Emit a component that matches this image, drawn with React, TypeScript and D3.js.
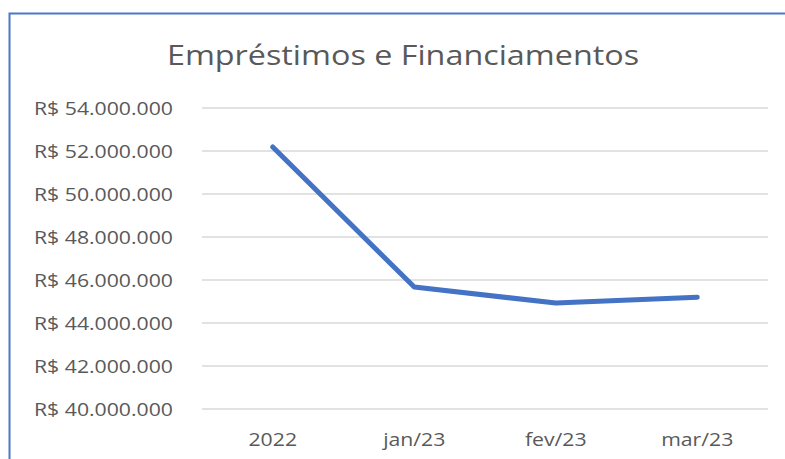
import { useRef, useEffect } from 'react';
import * as d3 from 'd3';

const categories = ['2022', 'jan/23', 'fev/23', 'mar/23'];
const values = [52190000, 45670000, 44930000, 45200000];
const yTicks = [40000000, 42000000, 44000000, 46000000, 48000000, 50000000, 52000000, 54000000];

const W = 785;
const H = 459;
const FONT = '"Open Sans", sans-serif';
// the reference glyphs are wider than Open Sans, so stretch text horizontally
const SX_LABEL = 1.18;
const SX_TITLE = 1.155;

const fmt = (v: number) => 'R$ ' + d3.format(',')(v).replace(/,/g, '.');

export default function App() {
    const svgRef = useRef<SVGSVGElement>(null);

    useEffect(() => {
        document.body.style.margin = '0';
        if (!svgRef.current) return;

        const margin = { top: 108, right: 17, bottom: 50, left: 202 };
        const width = W - margin.left - margin.right;
        const height = H - margin.top - margin.bottom;

        const root = d3.select(svgRef.current);
        root.selectAll('*').remove();

        root.append('rect').attr('width', W).attr('height', H).attr('fill', '#fff');

        // frame (top and left edges visible)
        root.append('path')
            .attr('d', `M9.5,${H} V13.5 H${W}`)
            .attr('fill', 'none')
            .attr('stroke', '#4a78c8')
            .attr('stroke-width', 2);

        root.append('g')
            .attr('transform', `translate(403,65) scale(${SX_TITLE},1)`)
            .append('text')
            .attr('text-anchor', 'middle')
            .attr('fill', '#595959')
            .style('font-family', FONT)
            .style('font-size', '28px')
            .text('Empréstimos e Financiamentos');

        const svg = root.append('g').attr('transform', `translate(${margin.left},${margin.top})`);

        const x = d3.scaleBand().domain(categories).range([0, width]);
        const y = d3.scaleLinear().domain([40000000, 54000000]).range([height, 0]);

        // grid lines
        svg.append('g')
            .selectAll('line')
            .data(yTicks)
            .enter()
            .append('line')
            .attr('x1', 0)
            .attr('x2', width)
            .attr('y1', d => y(d))
            .attr('y2', d => y(d))
            .attr('stroke', '#d9d9d9')
            .attr('stroke-width', 1.3);

        // y labels
        svg.append('g')
            .selectAll('g')
            .data(yTicks)
            .enter()
            .append('g')
            .attr('transform', d => `translate(-29,${y(d) + 7}) scale(${SX_LABEL},1)`)
            .append('text')
            .attr('text-anchor', 'end')
            .attr('fill', '#595959')
            .style('font-family', FONT)
            .style('font-size', '18px')
            .text(d => fmt(d));

        // x labels
        svg.append('g')
            .selectAll('g')
            .data(categories)
            .enter()
            .append('g')
            .attr('transform', d => `translate(${(x(d) || 0) + x.bandwidth() / 2},${height + 37}) scale(${SX_LABEL},1)`)
            .append('text')
            .attr('text-anchor', 'middle')
            .attr('fill', '#595959')
            .style('font-family', FONT)
            .style('font-size', '18px')
            .text(d => d);

        const line = d3.line<number>()
            .x((_d, i) => (x(categories[i]) || 0) + x.bandwidth() / 2)
            .y(d => y(d));

        svg.append('path')
            .datum(values)
            .attr('d', line)
            .attr('fill', 'none')
            .attr('stroke', '#4472c4')
            .attr('stroke-width', 5)
            .attr('stroke-linecap', 'round')
            .attr('stroke-linejoin', 'round');
    }, []);

    return <svg ref={svgRef} width={W} height={H} style={{ display: 'block' }}></svg>;
}
